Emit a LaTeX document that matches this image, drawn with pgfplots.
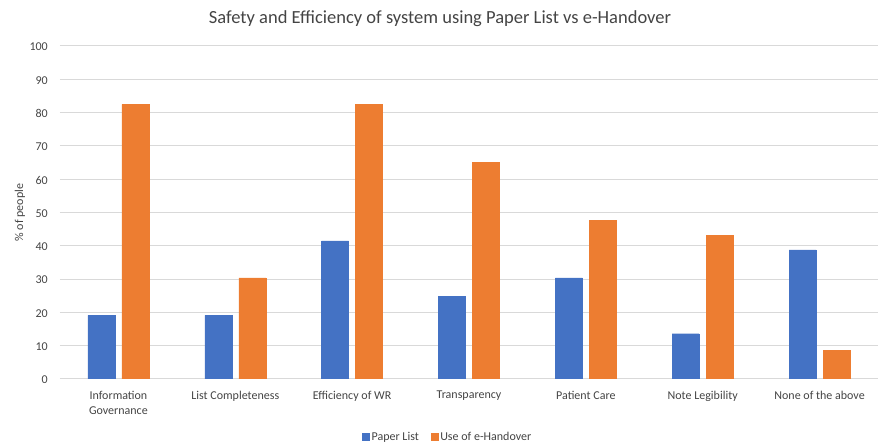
\documentclass[border=0pt]{standalone}
\usepackage{pgfplots}
\pgfplotsset{compat=1.18}
\usepackage{fontspec}
\setmainfont{Carlito}
\definecolor{blueS}{HTML}{4472C4}
\definecolor{orangeS}{HTML}{ED7D31}
\definecolor{gridc}{HTML}{D9D9D9}
\definecolor{txt}{HTML}{444444}
\begin{document}
\begin{tikzpicture}[x=1pt,y=1pt]
\useasboundingbox (-60,-65) rectangle (819,379);
\begin{axis}[
  at={(0,0)}, anchor=south west,
  scale only axis, width=818pt, height=333pt,
  ybar=7pt, bar width=27pt,
  xmin=-0.5, xmax=6.5, ymin=0, ymax=100,
  ytick={0,10,...,100},
  xtick={0,...,6},
  xticklabels={{Information\\Governance},{List Completeness},{Efficiency of WR},{Transparency},{Patient Care},{Note Legibility},{None of the above}},
  xticklabel style={align=center, font=\fontsize{12}{15}\selectfont, text=txt, anchor=north, inner sep=0pt, yshift=-12pt},
  yticklabel style={font=\fontsize{12}{14}\selectfont, text=txt, anchor=east, inner sep=0pt, xshift=-12pt, yshift=-1pt},
  /pgf/number format/assume math mode=true,
  axis line style={draw=none},
  ymajorgrids, grid style={gridc, line width=1pt},
  major tick length=0pt,
  legend columns=2,
  legend style={at={(axis description cs:0.474,-0.174)}, anchor=center, draw=none, font=\fontsize{12}{14}\selectfont, text=txt, /tikz/every even column/.append style={column sep=10pt}},
  legend image code/.code={\fill[#1] (0pt,-3.5pt) rectangle (7pt,3.5pt);},
]
\addplot[fill=blueS, draw=blueS] coordinates {(0,19.1) (1,19.1) (2,41.5) (3,24.8) (4,30.4) (5,13.6) (6,38.8)};
\addlegendentry{Paper List}
\addplot[fill=orangeS, draw=orangeS] coordinates {(0,82.5) (1,30.4) (2,82.5) (3,65.0) (4,47.7) (5,43.2) (6,8.6)};
\addlegendentry{Use of e-Handover}
\end{axis}
\node[text=txt, font=\fontsize{18.5}{22}\selectfont] at (380,360) {Safety and Efficiency of system using Paper List vs e-Handover};
\node[text=txt, rotate=90, font=\fontsize{12}{14}\selectfont] at (-40,166.5) {\% of people};
\end{tikzpicture}
\end{document}
